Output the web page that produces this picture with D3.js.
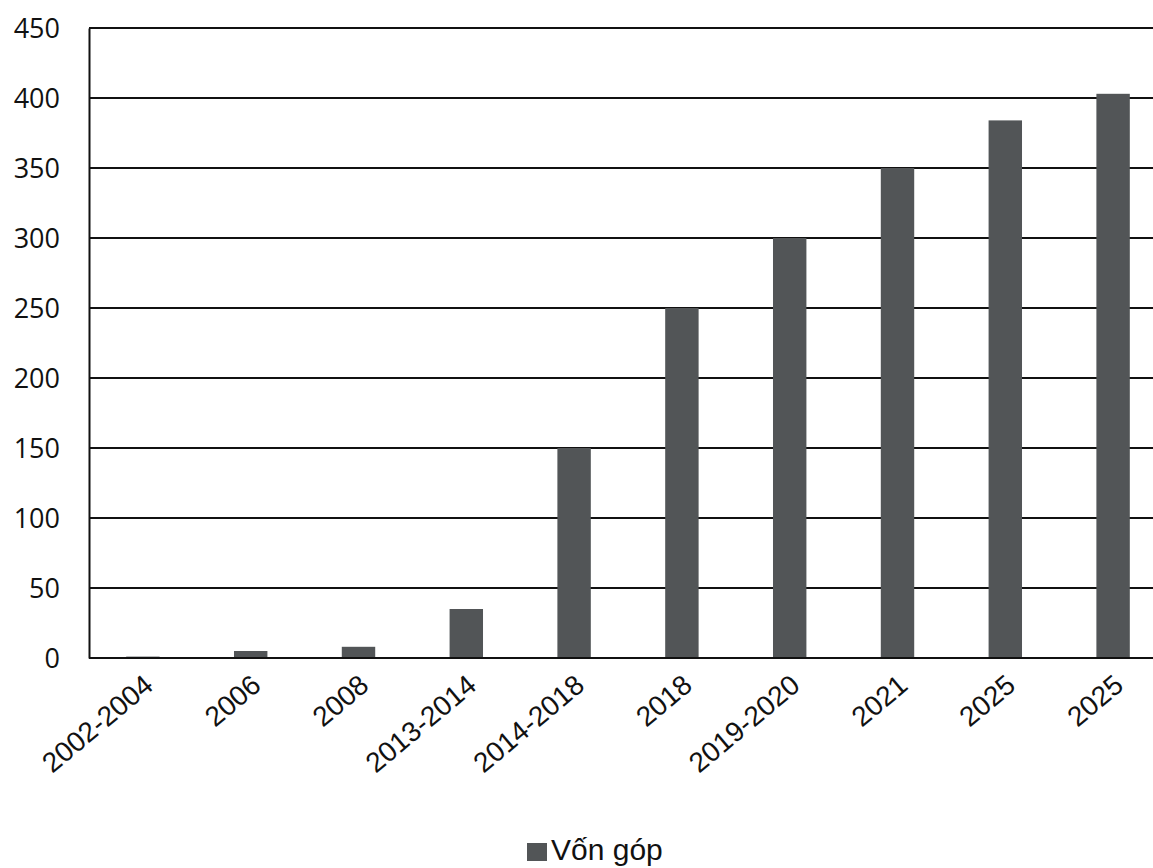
<!DOCTYPE html>
<html><head><meta charset="utf-8">
<script src="https://cdn.jsdelivr.net/npm/d3@7"></script>
<style>
html,body{margin:0;padding:0;background:#fff;overflow:hidden;}
</style></head>
<body>
<svg id="c" width="1153" height="868"></svg>
<script>
const categories = ["2002-2004","2006","2008","2013-2014","2014-2018","2018","2019-2020","2021","2025","2025 "];
const values = [1,5,8,35,150,250,300,350,384,403];
const yTicks = [0,50,100,150,200,250,300,350,400,450];
const seriesName = "Vốn góp";

const svg = d3.select("#c");
const mLeft = 89, mTop = 28, mBottom = 658, mRight = 1167;
const x = d3.scaleBand().domain(categories).range([mLeft, mRight]).paddingInner(0.69).paddingOuter(0.345);
const y = d3.scaleLinear().domain([0,450]).range([mBottom, mTop]);

// gridlines
svg.append("g").selectAll("line").data(yTicks).join("line")
  .attr("x1", mLeft).attr("x2", mRight)
  .attr("y1", d=>y(d)).attr("y2", d=>y(d))
  .attr("stroke","#111").attr("stroke-width",2);

// bars
svg.append("g").selectAll("rect").data(values).join("rect")
  .attr("x",(d,i)=>x(categories[i]))
  .attr("width", x.bandwidth())
  .attr("y", d=>y(d))
  .attr("height", d=>y(0)-y(d))
  .attr("fill","#525557");

// y axis
const yAxis = d3.axisLeft(y).tickValues(yTicks).tickSize(0).tickPadding(29);
const gy = svg.append("g").attr("transform",`translate(${mLeft},0)`).call(yAxis);
gy.select(".domain").attr("stroke","#111").attr("stroke-width",2);
gy.selectAll("text").attr("font-family","'Open Sans', sans-serif").attr("font-size",27).attr("fill","#111").attr("dy","0.35em");

// baseline
svg.append("line").attr("x1",mLeft).attr("x2",mRight).attr("y1",y(0)).attr("y2",y(0)).attr("stroke","#111").attr("stroke-width",2);

// x axis
const xAxis = d3.axisBottom(x).tickSize(0).tickFormat(d=>d.trim());
const gx = svg.append("g").attr("transform",`translate(0,${mBottom})`).call(xAxis);
gx.select(".domain").remove();
gx.selectAll("text")
  .attr("font-family","'Liberation Sans', Arial, sans-serif").attr("font-size",28).attr("fill","#111")
  .attr("text-anchor","end").attr("dy",null).attr("y",0)
  .attr("transform","translate(12,30) rotate(-40)");

// legend
const lg = svg.append("g");
lg.append("rect").attr("x",527).attr("y",843).attr("width",20).attr("height",18).attr("fill","#525557");
lg.append("text").attr("x",551).attr("y",860).attr("font-family","'Liberation Sans', Arial, sans-serif")
  .attr("font-size",30).attr("fill","#111").text(seriesName);
</script>
</body></html>
